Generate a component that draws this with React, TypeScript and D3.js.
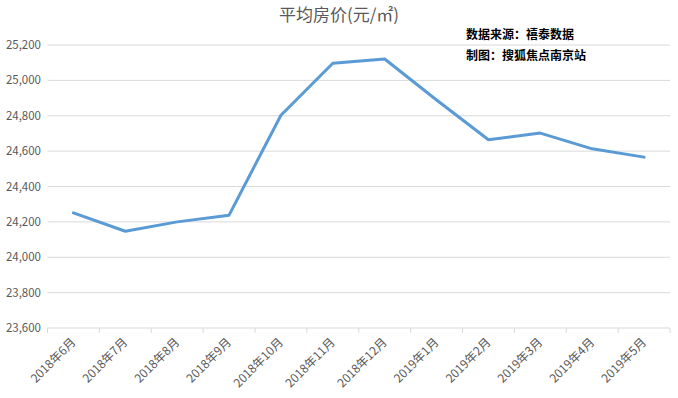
import * as d3 from "d3";

const MONTHS = [
  "2018年6月", "2018年7月", "2018年8月", "2018年9月", "2018年10月", "2018年11月",
  "2018年12月", "2019年1月", "2019年2月", "2019年3月", "2019年4月", "2019年5月",
];
const PRICES = [24251, 24147, 24200, 24238, 24803, 25097, 25121, 24889, 24664, 24702, 24613, 24566];
const Y_TICKS = [23600, 23800, 24000, 24200, 24400, 24600, 24800, 25000, 25200];

const W = 678;
const H = 398;
const FONT = "'Noto Sans CJK SC', 'Noto Sans', sans-serif";
const GREY = "#595959";

export default function App() {
  const x = d3.scaleBand<string>().domain(MONTHS).range([47.5, 670]);
  const y = d3.scaleLinear().domain([23600, 25200]).range([328, 45]);
  const fmt = d3.format(",");

  const line = d3
    .line<number>()
    .x((_, i) => (x(MONTHS[i]) ?? 0) + x.bandwidth() / 2)
    .y((d) => y(d));

  return (
    <svg
      width={W}
      height={H}
      style={{ position: "absolute", left: 0, top: 0, background: "#fff" }}
      fontFamily={FONT}
    >
      <text x={339} y={21} textAnchor="middle" fontSize={17} fill={GREY}>
        平均房价(元/㎡)
      </text>
      <text x={466} y={39} fontSize={12} fill="#000" fontWeight={600}>
        数据来源：禧泰数据
      </text>
      <text x={466} y={60} fontSize={12} fill="#000" fontWeight={600}>
        制图：搜狐焦点南京站
      </text>

      {Y_TICKS.map((t) => (
        <g key={t}>
          <line x1={47.5} x2={670} y1={y(t)} y2={y(t)} stroke="#d9d9d9" strokeWidth={1} />
          <text x={41} y={y(t) + 4} textAnchor="end" fontSize={11.5} fill={GREY}>
            {fmt(t)}
          </text>
        </g>
      ))}

      {MONTHS.map((m) => (
        <line
          key={"tk" + m}
          x1={x(m) ?? 0}
          x2={x(m) ?? 0}
          y1={328}
          y2={333}
          stroke="#d9d9d9"
        />
      ))}
      <line x1={670} x2={670} y1={328} y2={333} stroke="#d9d9d9" />

      {MONTHS.map((m) => {
        const cx = (x(m) ?? 0) + x.bandwidth() / 2 + 3;
        const cy = 343;
        return (
          <text
            key={m}
            x={cx}
            y={cy}
            textAnchor="end"
            fontSize={12}
            fill={GREY}
            transform={`rotate(-45 ${cx} ${cy})`}
          >
            {m}
          </text>
        );
      })}

      <path
        d={line(PRICES) ?? ""}
        fill="none"
        stroke="#5b9bd5"
        strokeWidth={3}
        strokeLinejoin="round"
        strokeLinecap="round"
      />
    </svg>
  );
}
